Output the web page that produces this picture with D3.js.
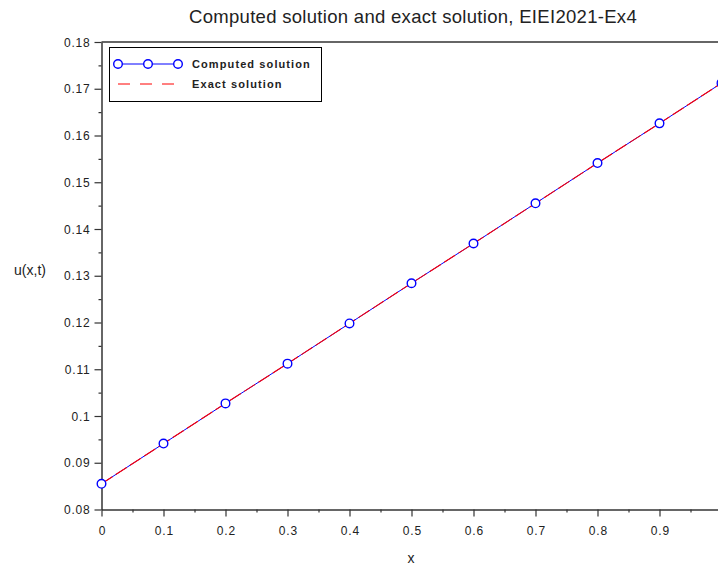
<!DOCTYPE html>
<html>
<head>
<meta charset="utf-8">
<script src="https://cdn.jsdelivr.net/npm/d3@7"></script>
<style>
  html, body { margin: 0; padding: 0; background: #fff; }
  svg { display: block; font-family: "Liberation Sans", Arial, sans-serif; }
</style>
</head>
<body>
<svg id="chart" width="718" height="569"></svg>
<script>
// Grid points and solution values
const xValues = [0, 0.1, 0.2, 0.3, 0.4, 0.5, 0.6, 0.7, 0.8, 0.9, 1.0];
const computedValues = [0.0855, 0.0941, 0.1027, 0.1112, 0.1198, 0.1284, 0.1369, 0.1455, 0.1541, 0.1626, 0.1712];
const exactValues = [0.0855, 0.0941, 0.1027, 0.1112, 0.1198, 0.1284, 0.1369, 0.1455, 0.1541, 0.1626, 0.1712];

const xTicks = [0, 0.1, 0.2, 0.3, 0.4, 0.5, 0.6, 0.7, 0.8, 0.9];
const xMinorTicks = [0.05, 0.15, 0.25, 0.35, 0.45, 0.55, 0.65, 0.75, 0.85, 0.95];
const yTicks = [0.08, 0.09, 0.1, 0.11, 0.12, 0.13, 0.14, 0.15, 0.16, 0.17, 0.18];
const yMinorTicks = [0.085, 0.095, 0.105, 0.115, 0.125, 0.135, 0.145, 0.155, 0.165, 0.175];
const yTickLabels = ["0.08", "0.09", "0.1", "0.11", "0.12", "0.13", "0.14", "0.15", "0.16", "0.17", "0.18"];

const titleText = "Computed solution and exact solution, EIEI2021-Ex4";
const seriesNames = ["Computed solution", "Exact solution"];

const svg = d3.select("#chart");
const plotLeft = 101.5, plotTop = 42, plotBottom = 509.5, plotRight = 721.5;

const x = d3.scaleLinear().domain([0, 1]).range([plotLeft, plotRight]);
const y = d3.scaleLinear().domain([0.08, 0.18]).range([plotBottom, plotTop]);

const axisColor = "#333";
const labelColor = "#222";

// Title
svg.append("text")
  .attr("x", 413).attr("y", 23)
  .attr("text-anchor", "middle")
  .attr("font-size", 18.5)
  .attr("letter-spacing", 0.3)
  .attr("fill", "#222")
  .text(titleText);

// Axis labels
svg.append("text")
  .attr("x", 411).attr("y", 563)
  .attr("text-anchor", "middle")
  .attr("font-size", 14)
  .attr("fill", labelColor)
  .text("x");
svg.append("text")
  .attr("x", 30).attr("y", 275)
  .attr("text-anchor", "middle")
  .attr("font-size", 14)
  .attr("fill", labelColor)
  .text("u(x,t)");

// X axis
const gx = svg.append("g").attr("transform", `translate(0,${plotBottom})`);
gx.call(d3.axisBottom(x).tickValues(xTicks).tickSize(7).tickSizeOuter(0)
  .tickFormat(d3.format("")));
gx.append("g").call(d3.axisBottom(x).tickValues(xMinorTicks).tickSize(3).tickSizeOuter(0).tickFormat(""))
  .select(".domain").remove();

// Y axis
const gy = svg.append("g").attr("transform", `translate(${plotLeft},0)`);
gy.call(d3.axisLeft(y).tickValues(yTicks).tickSize(7).tickSizeOuter(0)
  .tickFormat((d, i) => yTickLabels[i]));
gy.append("g").call(d3.axisLeft(y).tickValues(yMinorTicks).tickSize(3).tickSizeOuter(0).tickFormat(""))
  .select(".domain").remove();

svg.selectAll(".domain").attr("stroke", axisColor).attr("stroke-width", 1.5);
svg.selectAll(".tick line").attr("stroke", axisColor).attr("stroke-width", 1.2);
svg.selectAll(".tick text")
  .attr("font-family", "Liberation Sans, Arial, sans-serif")
  .attr("font-size", 12)
  .attr("letter-spacing", 0.8)
  .attr("fill", labelColor);
gx.selectAll(".tick text").attr("dy", "1.3em").attr("dx", 0.4);
gy.selectAll(".tick text").attr("x", -11).attr("dy", "0.35em");

// Top frame line
svg.append("line")
  .attr("x1", plotLeft).attr("x2", 718)
  .attr("y1", plotTop).attr("y2", plotTop)
  .attr("stroke", axisColor).attr("stroke-width", 1.5);

// Solution curves
const computedData = xValues.map((d, i) => [d, computedValues[i]]);
const exactData = xValues.map((d, i) => [d, exactValues[i]]);
const line = d3.line().x(d => x(d[0])).y(d => y(d[1]));

svg.append("path")
  .datum(computedData)
  .attr("d", line)
  .attr("fill", "none")
  .attr("stroke", "#0000ff")
  .attr("stroke-width", 1);

svg.append("path")
  .datum(exactData)
  .attr("d", line)
  .attr("fill", "none")
  .attr("stroke", "#ff0000")
  .attr("stroke-width", 1.1)
  .attr("stroke-dasharray", "13,4");

svg.append("g").selectAll("circle")
  .data(computedData)
  .join("circle")
  .attr("cx", d => x(d[0]))
  .attr("cy", d => y(d[1]))
  .attr("r", 4.3)
  .attr("fill", "#fff")
  .attr("stroke", "#0000ff")
  .attr("stroke-width", 1.4);

// Legend
const lg = svg.append("g");
lg.append("rect")
  .attr("x", 109.5).attr("y", 47.5)
  .attr("width", 212).attr("height", 54)
  .attr("fill", "#fff")
  .attr("stroke", "#000")
  .attr("stroke-width", 1);

lg.append("line")
  .attr("x1", 118).attr("x2", 178)
  .attr("y1", 64).attr("y2", 64)
  .attr("stroke", "#0000ff").attr("stroke-width", 1);
lg.selectAll("circle.lm")
  .data([118, 148, 178])
  .join("circle")
  .attr("class", "lm")
  .attr("cx", d => d).attr("cy", 64).attr("r", 4.3)
  .attr("fill", "#fff")
  .attr("stroke", "#0000ff").attr("stroke-width", 1.4);

lg.append("line")
  .attr("x1", 118).attr("x2", 178)
  .attr("y1", 84).attr("y2", 84)
  .attr("stroke", "#ff0000").attr("stroke-width", 1)
  .attr("stroke-dasharray", "12,10");

lg.selectAll("text")
  .data(seriesNames)
  .join("text")
  .attr("x", 192)
  .attr("y", (d, i) => 68 + i * 20)
  .attr("font-size", 11)
  .attr("font-weight", "bold")
  .attr("letter-spacing", 1.1)
  .attr("fill", "#222")
  .text(d => d);
</script>
</body>
</html>
